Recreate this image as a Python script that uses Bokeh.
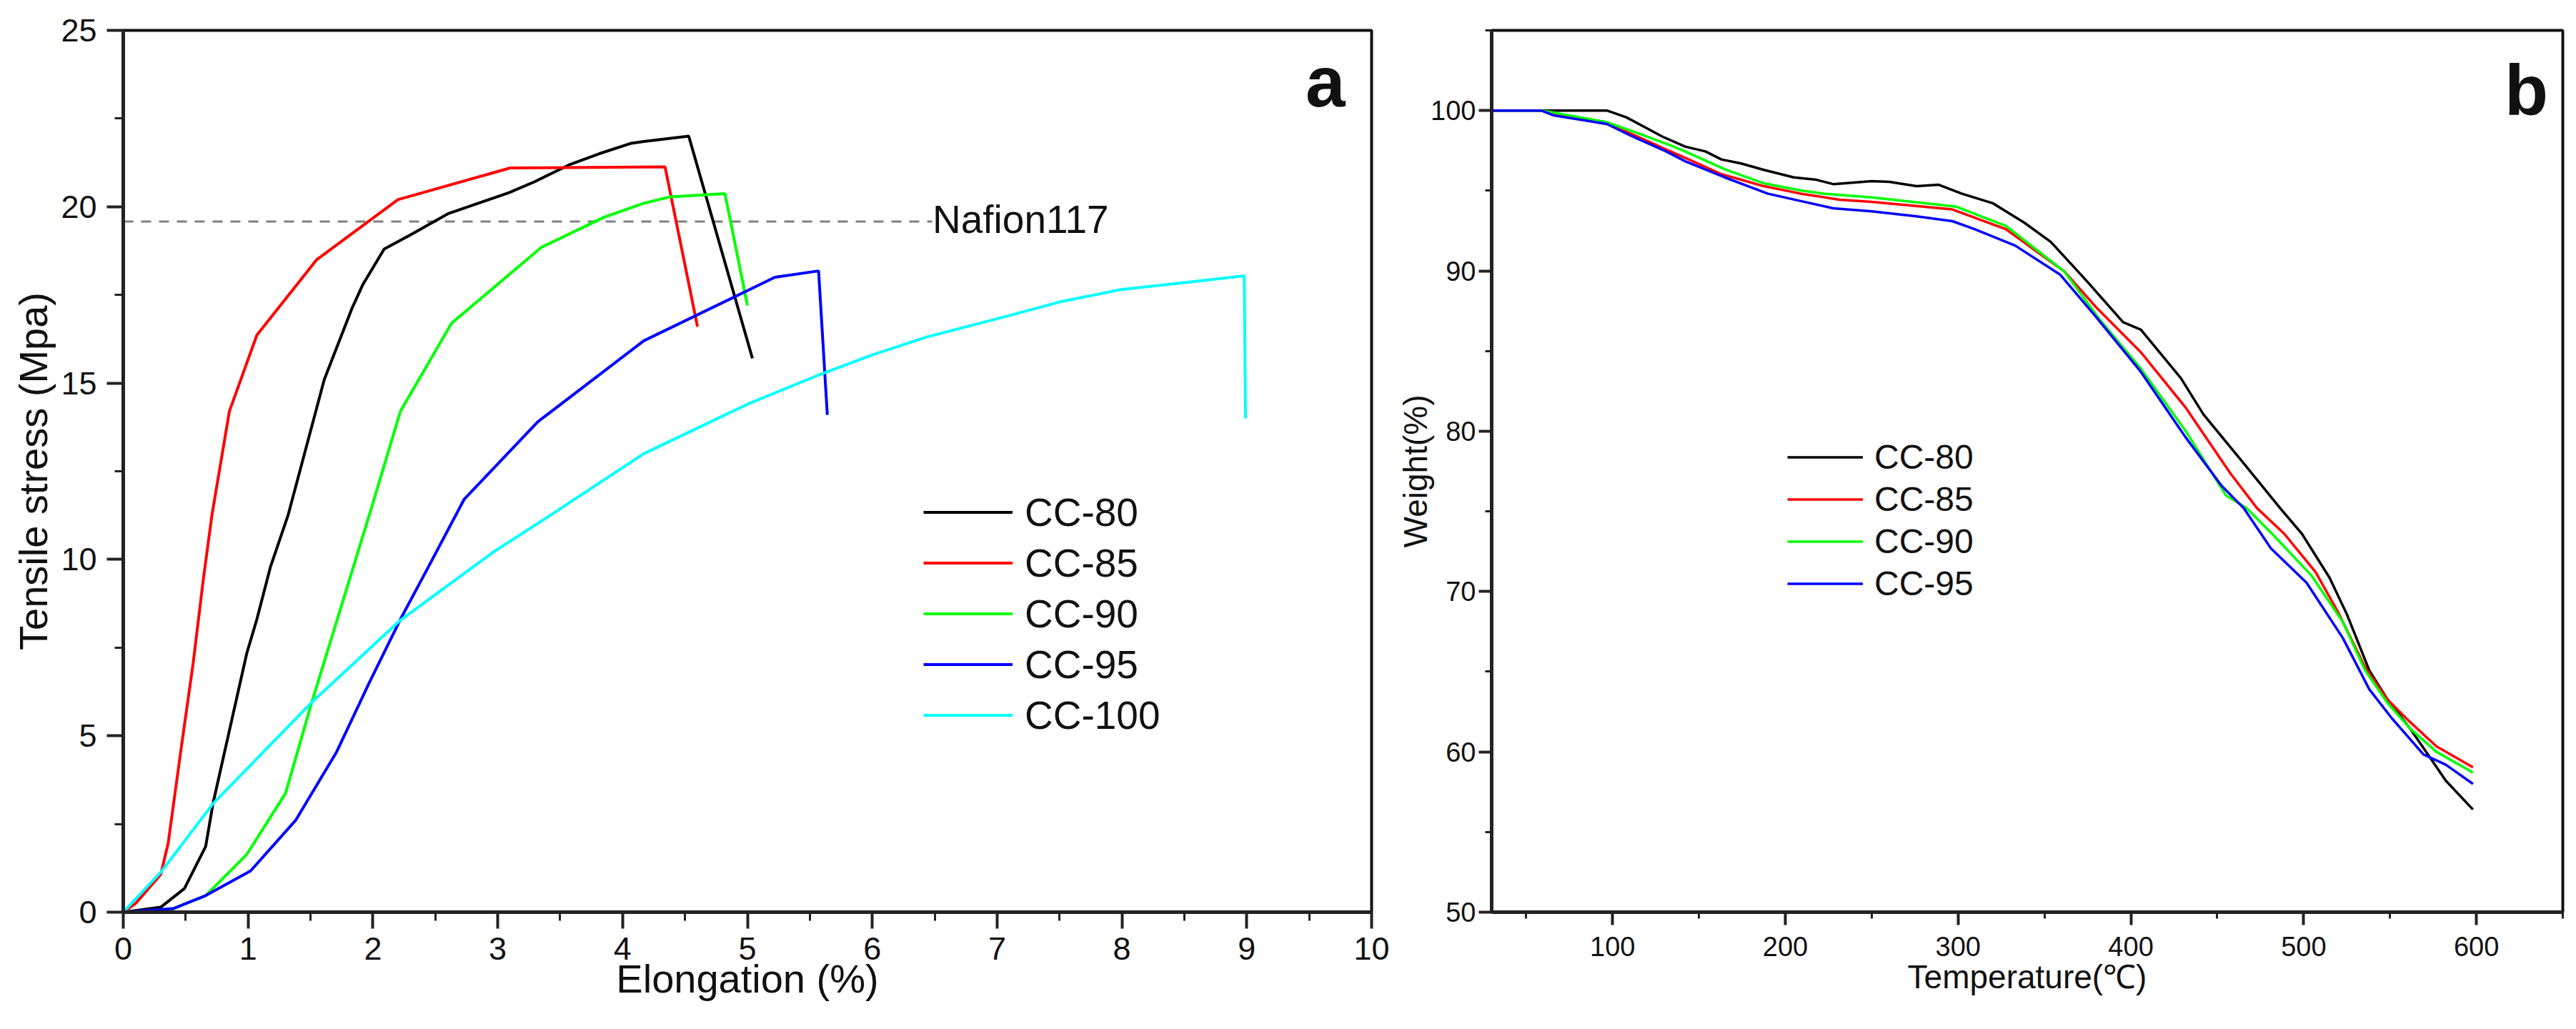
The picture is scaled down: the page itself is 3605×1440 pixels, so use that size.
from bokeh.plotting import figure
from bokeh.models import Legend, LegendItem, FixedTicker
from bokeh.layouts import row
from bokeh.embed import file_html
from bokeh.resources import INLINE

FONT = "Liberation Sans"

# ---------------- Panel a: tensile stress vs elongation ----------------
cc80_x = [0, 0.3, 0.49, 0.66, 0.72, 0.99, 1.07, 1.18, 1.32, 1.61, 1.83, 1.92, 2.09, 2.30, 2.6, 3.09, 3.29, 3.58, 3.81, 4.07, 4.17, 4.53, 5.04]
cc80_y = [0, 0.14, 0.67, 1.86, 3.1, 7.35, 8.3, 9.8, 11.25, 15.1, 17.1, 17.8, 18.8, 19.2, 19.8, 20.4, 20.7, 21.2, 21.5, 21.8, 21.85, 22.0, 15.7]

cc85_x = [0, 0.1, 0.3, 0.36, 0.46, 0.56, 0.64, 0.71, 0.85, 1.07, 1.55, 2.2, 3.1, 4.34, 4.6]
cc85_y = [0, 0.25, 1.07, 1.96, 4.55, 7.06, 9.4, 11.25, 14.2, 16.36, 18.5, 20.2, 21.1, 21.13, 16.6]

cc90_x = [0, 0.33, 0.66, 0.99, 1.3, 1.51, 1.97, 2.22, 2.63, 3.35, 3.85, 4.17, 4.38, 4.82, 5.0]
cc90_y = [0, 0, 0.47, 1.64, 3.37, 5.95, 11.25, 14.2, 16.7, 18.85, 19.7, 20.1, 20.28, 20.37, 17.2]

cc95_x = [0, 0.4, 0.66, 1.02, 1.38, 1.71, 1.97, 2.22, 2.47, 2.73, 3.32, 4.17, 5.22, 5.57, 5.64]
cc95_y = [0, 0.1, 0.47, 1.17, 2.6, 4.55, 6.5, 8.3, 9.96, 11.7, 13.9, 16.2, 18.0, 18.18, 14.1]

cc100_x = [0, 0.3, 0.72, 1.51, 2.22, 2.96, 3.42, 4.17, 5.0, 5.55, 6.0, 6.43, 7.08, 7.5, 7.99, 8.5, 8.98, 8.99]
cc100_y = [0, 1.13, 3.08, 5.95, 8.28, 10.2, 11.25, 13.0, 14.4, 15.2, 15.8, 16.3, 16.9, 17.3, 17.65, 17.85, 18.04, 14.0]

nafion_x = [0, 6.48]
nafion_y = [19.58, 19.58]
nafion_label = "Nafion117"

labels_a = ["CC-80", "CC-85", "CC-90", "CC-95", "CC-100"]
colors_a = ["#000000", "#FF0000", "#00FF00", "#0000FF", "#00FFFF"]
xticks_a = [0, 1, 2, 3, 4, 5, 6, 7, 8, 9, 10]
xminor_a = [0.5, 1.5, 2.5, 3.5, 4.5, 5.5, 6.5, 7.5, 8.5, 9.5]
yticks_a = [0, 5, 10, 15, 20, 25]
yminor_a = [2.5, 7.5, 12.5, 17.5, 22.5]

# ---------------- Panel b: TGA ----------------
t80 = [30, 96.7, 107.9, 128.9, 142, 153.7, 163, 174.4, 187.6, 204.9, 218, 227.7, 250, 260.3, 276, 288.8, 302, 320, 338.4, 353.7, 374.4, 395.5, 405.8, 429, 442, 465.3, 486.4, 499, 515, 525.2, 538, 548.5, 561.6, 572, 582.3, 598]
w80 = [100, 100, 99.58, 98.37, 97.75, 97.45, 96.95, 96.7, 96.3, 95.83, 95.68, 95.41, 95.6, 95.55, 95.28, 95.37, 94.82, 94.22, 93.0, 91.8, 89.37, 86.8, 86.33, 83.3, 81.05, 78.0, 75.2, 73.6, 70.86, 68.54, 65.08, 63.27, 61.45, 59.83, 58.2, 56.4]

t85 = [30, 58.7, 66, 96.7, 108, 129, 142, 163, 187.6, 208.7, 231.4, 250, 296.7, 327.7, 361.6, 379.8, 405.8, 431.8, 457.4, 473, 488.8, 507, 519.8, 535.5, 548.4, 561.6, 576.9, 598]
w85 = [100, 100, 99.78, 99.16, 98.68, 97.66, 97.05, 96.03, 95.28, 94.82, 94.44, 94.3, 93.83, 92.6, 89.95, 87.74, 84.92, 81.46, 77.4, 75.2, 73.6, 71.2, 68.74, 65.3, 63.27, 61.86, 60.34, 59.04]

t90 = [30, 58.7, 66, 96.7, 110, 132.6, 142, 164.9, 187.6, 208.7, 222, 250, 299, 327.7, 361.6, 382.2, 405.8, 431.8, 455, 467, 483.5, 504.5, 522.7, 535.5, 548.4, 561.6, 576.9, 598]
w90 = [100, 100, 99.87, 99.27, 98.77, 97.86, 97.45, 96.34, 95.46, 95.02, 94.82, 94.58, 94.0, 92.8, 89.95, 86.93, 83.9, 80.0, 76.0, 75.2, 73.4, 71.0, 68.1, 65.1, 63.07, 61.45, 60.0, 58.7]

t95 = [30, 58.7, 66, 96.7, 110, 131, 142, 164.9, 189.7, 206.6, 227.7, 250, 276, 296.7, 309.5, 333, 359, 379.8, 405.8, 431.8, 452.5, 465.3, 481, 501.7, 522.7, 538, 551, 569.4, 582.3, 598]
w95 = [100, 100, 99.69, 99.16, 98.46, 97.45, 96.84, 95.83, 94.82, 94.41, 93.9, 93.71, 93.4, 93.1, 92.6, 91.58, 89.77, 87.13, 83.7, 79.6, 76.6, 75.2, 72.7, 70.55, 67.1, 63.9, 62.1, 59.83, 59.2, 58.0]

labels_b = ["CC-80", "CC-85", "CC-90", "CC-95"]
colors_b = ["#000000", "#FF0000", "#00FF00", "#0000FF"]
xticks_b = [100, 200, 300, 400, 500, 600]
xminor_b = [50, 150, 250, 350, 450, 550, 650]
yticks_b = [50, 60, 70, 80, 90, 100]
yminor_b = [55, 65, 75, 85, 95, 105]

panel_tags = ["a", "b"]


def style(p, tick_size, title_size, maj_out, min_out, lab_sx, lab_sy, tit_sx, tit_sy):
    p.xgrid.visible = False
    p.ygrid.visible = False
    p.outline_line_color = "#111111"
    p.outline_line_width = 4
    for ax in (p.xaxis[0], p.yaxis[0]):
        ax.axis_line_color = "#222222"
        ax.axis_line_width = 5
        ax.major_tick_line_color = "#222222"
        ax.minor_tick_line_color = "#222222"
        ax.major_tick_line_width = 4
        ax.minor_tick_line_width = 3
        ax.major_tick_in = 0
        ax.minor_tick_in = 0
        ax.major_tick_out = maj_out
        ax.minor_tick_out = min_out
        ax.major_label_text_font = FONT
        ax.major_label_text_font_size = tick_size
        ax.major_label_text_color = "#111111"
        ax.axis_label_text_font = FONT
        ax.axis_label_text_font_size = title_size
        ax.axis_label_text_font_style = "normal"
        ax.axis_label_text_color = "#111111"
    p.xaxis[0].major_label_standoff = lab_sx
    p.yaxis[0].major_label_standoff = lab_sy
    p.xaxis[0].axis_label_standoff = tit_sx
    p.yaxis[0].axis_label_standoff = tit_sy


def text_legend(label, renderer, loc, size, style_, height):
    # a legend with an empty glyph: used as a plain positioned text
    return Legend(items=[LegendItem(label=label, renderers=[renderer])], location=loc,
                  glyph_width=0, glyph_height=height, label_height=height, spacing=0,
                  padding=0, label_standoff=0, label_text_font=FONT,
                  label_text_font_size=size, label_text_font_style=style_,
                  label_text_color="#111111", border_line_alpha=0, background_fill_alpha=0)


# ---------- figure a ----------
pa = figure(width=1946, height=1436, output_backend="svg", toolbar_location=None,
            x_range=(0, 10), y_range=(0, 25),
            x_axis_label="Elongation (%)", y_axis_label="Tensile stress (Mpa)",
            min_border_left=172, min_border_right=27, min_border_top=42, min_border_bottom=160)
pa.xaxis[0].ticker = FixedTicker(ticks=xticks_a, minor_ticks=xminor_a)
pa.yaxis[0].ticker = FixedTicker(ticks=yticks_a, minor_ticks=yminor_a)
style(pa, "45px", "56px", 23, 12, 12, 14, -8, 4)

naf = pa.line(nafion_x, nafion_y, line_color="#808080", line_width=3, line_dash="14 11")

series_a = [(cc80_x, cc80_y), (cc85_x, cc85_y), (cc90_x, cc90_y), (cc95_x, cc95_y), (cc100_x, cc100_y)]
items_a = []
rend_a = []
for (xs, ys), lab, col in zip(series_a, labels_a, colors_a):
    r = pa.line(xs, ys, line_color=col, line_width=4)
    rend_a.append(r)
    items_a.append(LegendItem(label=lab, renderers=[r]))

leg_a = Legend(items=items_a, location=(1120, 240), glyph_width=125, glyph_height=71,
               label_height=71, spacing=0, padding=0, label_standoff=17,
               label_text_font=FONT, label_text_font_size="55px", label_text_color="#111111",
               border_line_alpha=0, background_fill_alpha=0)
pa.add_layout(leg_a)
pa.add_layout(text_legend(nafion_label, naf, (1133, 937), "55px", "normal", 64))
pa.add_layout(text_legend(panel_tags[0], rend_a[0], (1655, 1104), "100px", "bold", 110))

# ---------- figure b ----------
pb = figure(width=1643, height=1436, output_backend="svg", toolbar_location=None,
            x_range=(30, 650), y_range=(50, 105),
            x_axis_label="Temperature(℃)", y_axis_label="Weight(%)",
            min_border_left=141, min_border_right=3, min_border_top=42, min_border_bottom=160)
pb.xaxis[0].ticker = FixedTicker(ticks=xticks_b, minor_ticks=xminor_b)
pb.yaxis[0].ticker = FixedTicker(ticks=yticks_b, minor_ticks=yminor_b)
style(pb, "38px", "46px", 18, 9, 16, 4, 0, -8)

series_b = [(t80, w80), (t85, w85), (t90, w90), (t95, w95)]
items_b = []
rend_b = []
for (xs, ys), lab, col in zip(series_b, labels_b, colors_b):
    r = pb.line(xs, ys, line_color=col, line_width=3.5)
    rend_b.append(r)
    items_b.append(LegendItem(label=lab, renderers=[r]))

leg_b = Legend(items=items_b, location=(414, 430), glyph_width=106, glyph_height=59,
               label_height=59, spacing=0, padding=0, label_standoff=16,
               label_text_font=FONT, label_text_font_size="48px", label_text_color="#111111",
               border_line_alpha=0, background_fill_alpha=0)
pb.add_layout(leg_b)
pb.add_layout(text_legend(panel_tags[1], rend_b[0], (1418, 1092), "100px", "bold", 110))

layout = row(pa, pb)
open("out.html", "w").write(file_html(layout, INLINE))
